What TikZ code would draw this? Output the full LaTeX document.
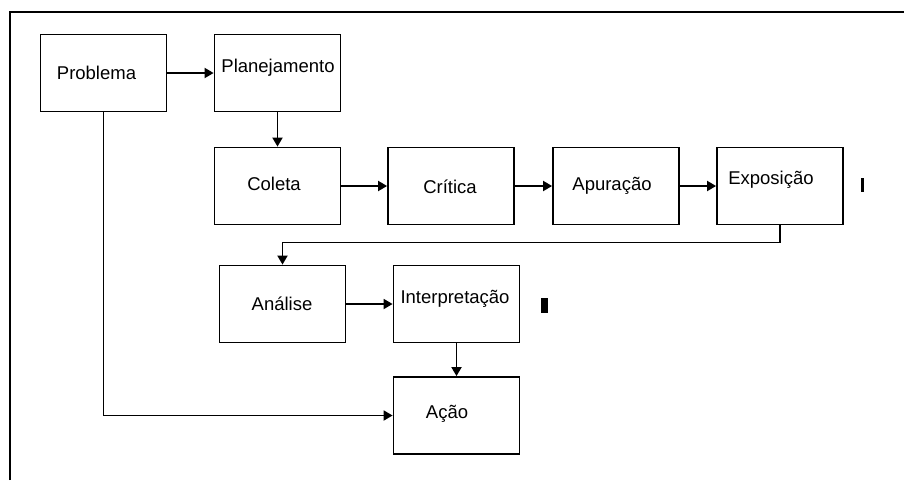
\documentclass[tikz,border=0pt]{standalone}
\usepackage{fontspec}
\setmainfont{Liberation Sans}
\usetikzlibrary{arrows.meta}
\begin{document}
\begin{tikzpicture}[x=1pt,y=-1pt,
  box/.style={draw, line width=1.8pt, minimum width=126pt, minimum height=77pt, inner sep=0pt},
  txt/.style={font=\fontsize{18.5}{22}\selectfont, inner sep=0pt},
  arr/.style={-{Triangle[length=9pt,width=10pt]}, line width=1.8pt},
  frame/.style={line width=1.8pt}]
\useasboundingbox (0,0) rectangle (904,480);
% frame
\coordinate (fbl) at (10,480);
\coordinate (ftl) at (10,12);
\coordinate (ftr) at (904,12);
\draw[frame] (fbl) -- (ftl) -- (ftr);
% boxes
\node[box] (prob) at (103.5,73) {};
\node[box] (plan) at (277.5,73) {};
\node[box] (cole) at (277.5,186) {};
\node[box] (crit) at (451,186) {};
\node[box] (apur) at (616,186) {};
\node[box] (expo) at (780,186) {};
\node[box] (anal) at (282.5,304) {};
\node[box] (inte) at (456.5,304) {};
\node[box] (acao) at (456.5,415.5) {};
% texts
\node[txt] (tprob) at (96.5,73) {Problema};
\node[txt] (tplan) at (278,68) {Planejamento};
\node[txt] (tcole) at (274,184) {Coleta};
\node[txt] (tcrit) at (450,187) {Crítica};
\node[txt] (tapur) at (612,186) {Apuração};
\node[txt] (texpo) at (771,180) {Exposição};
\node[txt] (tanal) at (282,304) {Análise};
\node[txt] (tinte) at (455,299) {Interpretação};
\node[txt] (tacao) at (447,414) {Ação};
% connectors
\draw[arr] (prob.east) -- (plan.west);
\draw[arr] (plan.south) -- (cole.north);
\draw[arr] (cole.east) -- (crit.west);
\draw[arr] (crit.east) -- (apur.west);
\draw[arr] (apur.east) -- (expo.west);
\draw[arr] (expo.south) -- ++(0,17) -| (anal.north);
\draw[arr] (anal.east) -- (inte.west);
\draw[arr] (inte.south) -- (acao.north);
\draw[arr] (prob.south) |- (acao.west);
% small marks
\fill (860.5,178) rectangle (863.5,192);
\fill (540.5,298) rectangle (547.5,313);
\end{tikzpicture}
\end{document}
